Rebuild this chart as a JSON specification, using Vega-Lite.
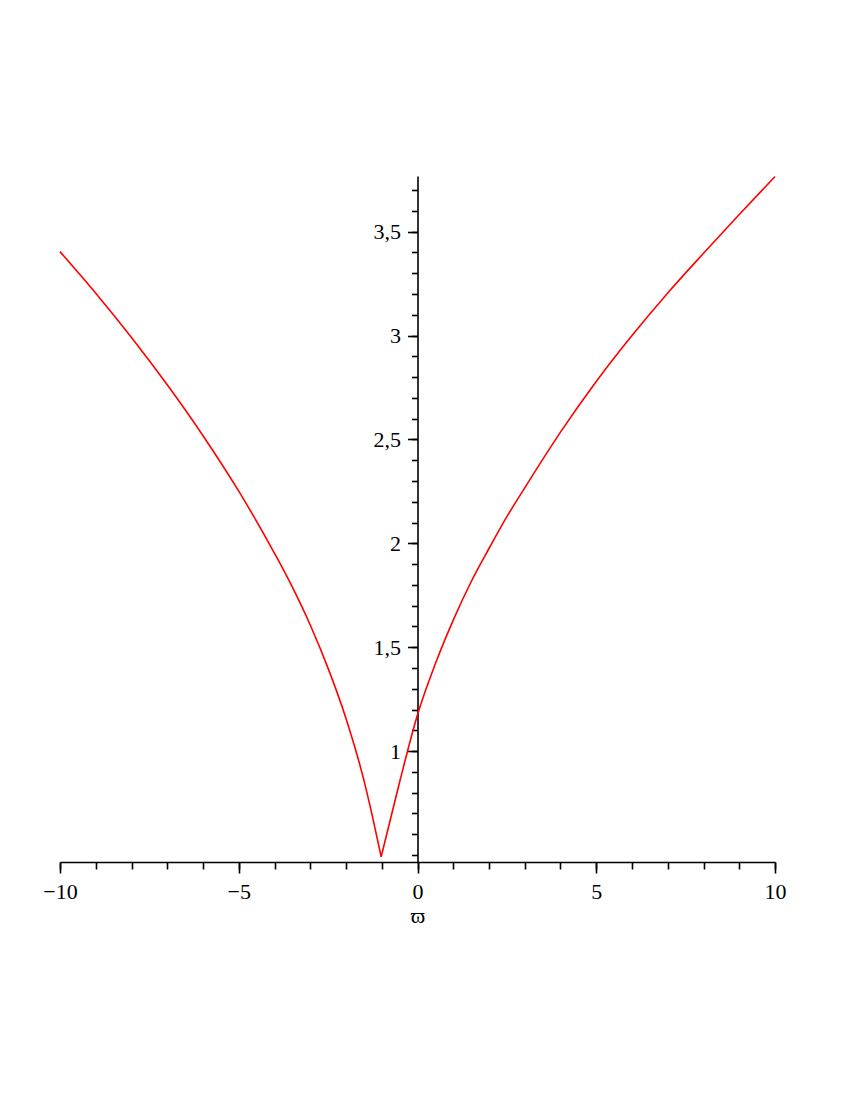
{
  "$schema": "https://vega.github.io/schema/vega-lite/v6.json",
  "width": 715,
  "height": 686,
  "autosize": {"type": "none"},
  "padding": {"left": 60, "top": 176, "right": 75, "bottom": 238},
  "background": "white",
  "config": {
    "view": {"stroke": null},
    "axis": {
      "labelFont": "Liberation Serif",
      "titleFont": "Liberation Serif",
      "labelColor": "black",
      "tickColor": "black",
      "domainColor": "black",
      "titleColor": "black",
      "grid": false,
      "labelFontSize": 22,
      "titleFontSize": 22,
      "titleFontWeight": "normal",
      "labelFlush": false,
      "labelOverlap": false,
      "tickWidth": 1.6,
      "domainWidth": 1.6
    }
  },
  "data": {
    "values": [
      {"w": -10, "f": 3.404, "branch": "L"},
      {"w": -9, "f": 3.204, "branch": "L"},
      {"w": -8, "f": 2.991, "branch": "L"},
      {"w": -7, "f": 2.763, "branch": "L"},
      {"w": -6, "f": 2.518, "branch": "L"},
      {"w": -5, "f": 2.251, "branch": "L"},
      {"w": -4, "f": 1.952, "branch": "L"},
      {"w": -3.5, "f": 1.789, "branch": "L"},
      {"w": -3, "f": 1.607, "branch": "L"},
      {"w": -2.5, "f": 1.398, "branch": "L"},
      {"w": -2, "f": 1.157, "branch": "L"},
      {"w": -1.5, "f": 0.86, "branch": "L"},
      {"w": -1.25, "f": 0.677, "branch": "L"},
      {"w": -1.016, "f": 0.491, "branch": "L"},
      {"w": -1.016, "f": 0.491, "branch": "R"},
      {"w": -0.5, "f": 0.851, "branch": "R"},
      {"w": 0, "f": 1.175, "branch": "R"},
      {"w": 0.5, "f": 1.42, "branch": "R"},
      {"w": 1, "f": 1.63, "branch": "R"},
      {"w": 1.5, "f": 1.815, "branch": "R"},
      {"w": 2, "f": 1.975, "branch": "R"},
      {"w": 2.5, "f": 2.128, "branch": "R"},
      {"w": 3, "f": 2.267, "branch": "R"},
      {"w": 4, "f": 2.535, "branch": "R"},
      {"w": 5, "f": 2.779, "branch": "R"},
      {"w": 6, "f": 3.0, "branch": "R"},
      {"w": 7, "f": 3.205, "branch": "R"},
      {"w": 8, "f": 3.396, "branch": "R"},
      {"w": 9, "f": 3.583, "branch": "R"},
      {"w": 10, "f": 3.765, "branch": "R"}
    ]
  },
  "layer": [
    {
      "mark": {"type": "line", "opacity": 0, "interpolate": "monotone"},
      "encoding": {
        "x": {
          "field": "w", "type": "quantitative",
          "scale": {"domain": [-10, 10], "nice": false, "zero": false},
          "axis": {
            "orient": "bottom",
            "values": [-10, -9, -8, -7, -6, -5, -4, -3, -2, -1, 0, 1, 2, 3, 4, 5, 6, 7, 8, 9, 10],
            "tickSize": 7, "labels": false, "domain": false, "title": null
          }
        },
        "y": {
          "field": "f", "type": "quantitative",
          "scale": {"domain": [0.466, 3.768], "nice": false, "zero": false},
          "axis": {
            "orient": "left", "offset": -357.5,
            "values": [0.5, 0.6, 0.7, 0.8, 0.9, 1, 1.1, 1.2, 1.3, 1.4, 1.5, 1.6, 1.7, 1.8, 1.9, 2, 2.1, 2.2, 2.3, 2.4, 2.5, 2.6, 2.7, 2.8, 2.9, 3, 3.1, 3.2, 3.3, 3.4, 3.5, 3.6, 3.7],
            "tickSize": 6, "labels": false, "domain": false, "title": null
          }
        },
        "detail": {"field": "branch"}
      }
    },
    {
      "mark": {"type": "line", "color": "#ff0000", "strokeWidth": 1.6, "interpolate": "monotone"},
      "encoding": {
        "x": {
          "field": "w", "type": "quantitative",
          "scale": {"domain": [-10, 10], "nice": false, "zero": false},
          "axis": {
            "orient": "bottom",
            "values": [-10, -5, 0, 5, 10],
            "tickSize": 11, "labelPadding": 8,
            "labelFont": "Liberation Serif", "labelFontSize": 22,
            "titleFont": "Liberation Serif", "titleFontSize": 22,
            "title": "ϖ", "titlePadding": 3
          }
        },
        "y": {
          "field": "f", "type": "quantitative",
          "scale": {"domain": [0.466, 3.768], "nice": false, "zero": false},
          "axis": {
            "orient": "left", "offset": -357.5,
            "values": [1, 1.5, 2, 2.5, 3, 3.5],
            "tickSize": 10, "labelPadding": 7, "title": null,
            "labelFont": "Liberation Serif", "labelFontSize": 22,
            "labelExpr": "replace(format(datum.value, '~g'), '.', ',')"
          }
        },
        "detail": {"field": "branch"}
      }
    }
  ],
  "resolve": {"axis": {"x": "independent", "y": "independent"}}
}
